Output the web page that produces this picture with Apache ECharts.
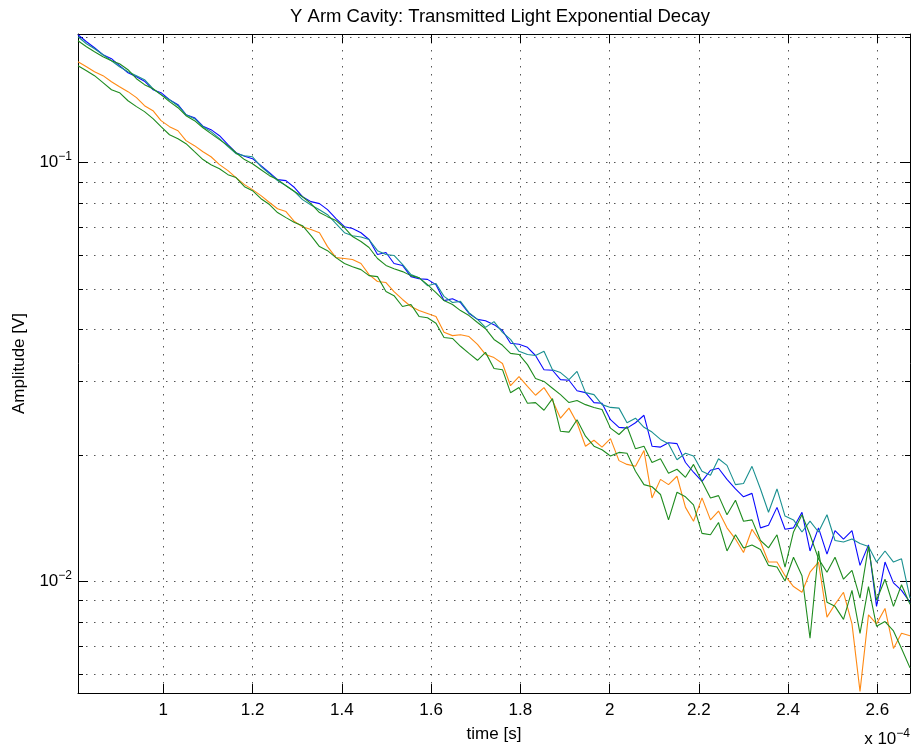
<!DOCTYPE html>
<html>
<head>
<meta charset="utf-8">
<script src="https://cdn.jsdelivr.net/npm/echarts@6/dist/echarts.min.js"></script>
<style>
  html, body { margin: 0; padding: 0; background: #fff; }
  #chart { width: 913px; height: 751px; }
</style>
</head>
<body>
<div id="chart"></div>
<script>
// time axis, in units of 1e-4 s
const timeE4 = [
  0.809, 0.828, 0.846, 0.865, 0.884, 0.902, 0.921, 0.940, 0.958, 0.977,
  0.995, 1.014, 1.033, 1.051, 1.070, 1.089, 1.107, 1.126, 1.145, 1.163,
  1.182, 1.200, 1.219, 1.238, 1.256, 1.275, 1.294, 1.312, 1.331, 1.350,
  1.368, 1.387, 1.406, 1.424, 1.443, 1.461, 1.480, 1.499, 1.517, 1.536,
  1.555, 1.573, 1.592, 1.611, 1.629, 1.648, 1.666, 1.685, 1.704, 1.722,
  1.741, 1.760, 1.778, 1.797, 1.816, 1.834, 1.853, 1.872, 1.890, 1.909,
  1.927, 1.946, 1.965, 1.983, 2.002, 2.021, 2.039, 2.058, 2.077, 2.095,
  2.114, 2.132, 2.151, 2.170, 2.188, 2.207, 2.226, 2.244, 2.263, 2.282,
  2.300, 2.319, 2.338, 2.356, 2.375, 2.393, 2.412, 2.431, 2.449, 2.468,
  2.487, 2.505, 2.524, 2.543, 2.561, 2.580, 2.598, 2.617, 2.636, 2.654,
  2.673
];

// amplitudes [V]
const blueTrace = [
  0.2022, 0.1945, 0.1882, 0.1811, 0.1772, 0.1705, 0.1640, 0.1605, 0.1566, 0.1494,
  0.1470, 0.1414, 0.1376, 0.1302, 0.1281, 0.1222, 0.1199, 0.1160, 0.1104, 0.1056,
  0.1036, 0.1022, 0.0984, 0.0946, 0.0911, 0.0906, 0.0872, 0.0829, 0.0807, 0.0798,
  0.0772, 0.0735, 0.0703, 0.0696, 0.0680, 0.0655, 0.0603, 0.0610, 0.0574, 0.0568,
  0.0534, 0.0528, 0.0526, 0.0511, 0.0468, 0.0473, 0.0463, 0.0436, 0.0422, 0.0419,
  0.0410, 0.0397, 0.0370, 0.0368, 0.0362, 0.0346, 0.0320, 0.0319, 0.0303, 0.0302,
  0.0285, 0.0282, 0.0267, 0.0266, 0.0243, 0.0233, 0.0232, 0.0239, 0.0249, 0.0210,
  0.0209, 0.0214, 0.0213, 0.0192, 0.0182, 0.0173, 0.0184, 0.0186, 0.0175, 0.0166,
  0.0159, 0.0162, 0.0134, 0.0136, 0.0150, 0.0133, 0.0134, 0.0146, 0.0118, 0.0134,
  0.0116, 0.0132, 0.0126, 0.0132, 0.0109, 0.0122, 0.0087, 0.0111, 0.0099, 0.0095,
  0.0089
];
const tealTrace = [
  0.2000, 0.1924, 0.1872, 0.1811, 0.1752, 0.1695, 0.1650, 0.1614, 0.1579, 0.1502,
  0.1454, 0.1414, 0.1368, 0.1302, 0.1274, 0.1219, 0.1186, 0.1141, 0.1092, 0.1051,
  0.1039, 0.1033, 0.0978, 0.0941, 0.0906, 0.0881, 0.0853, 0.0816, 0.0792, 0.0772,
  0.0751, 0.0715, 0.0680, 0.0669, 0.0664, 0.0655, 0.0616, 0.0603, 0.0600, 0.0571,
  0.0540, 0.0531, 0.0508, 0.0514, 0.0479, 0.0463, 0.0466, 0.0438, 0.0422, 0.0404,
  0.0417, 0.0393, 0.0378, 0.0354, 0.0348, 0.0346, 0.0354, 0.0320, 0.0315, 0.0303,
  0.0317, 0.0282, 0.0279, 0.0264, 0.0260, 0.0259, 0.0239, 0.0245, 0.0233, 0.0227,
  0.0218, 0.0213, 0.0195, 0.0202, 0.0199, 0.0183, 0.0179, 0.0196, 0.0189, 0.0170,
  0.0171, 0.0188, 0.0166, 0.0146, 0.0166, 0.0143, 0.0140, 0.0131, 0.0139, 0.0131,
  0.0144, 0.0125, 0.0124, 0.0126, 0.0123, 0.0121, 0.0111, 0.0118, 0.0111, 0.0113,
  0.0091
];
const greenUpperTrace = [
  0.1956, 0.1893, 0.1841, 0.1791, 0.1752, 0.1724, 0.1668, 0.1587, 0.1536, 0.1502,
  0.1454, 0.1399, 0.1353, 0.1295, 0.1260, 0.1212, 0.1173, 0.1135, 0.1098, 0.1056,
  0.1017, 0.0994, 0.0962, 0.0931, 0.0911, 0.0881, 0.0853, 0.0829, 0.0798, 0.0760,
  0.0743, 0.0727, 0.0699, 0.0666, 0.0648, 0.0627, 0.0590, 0.0568, 0.0558, 0.0549,
  0.0537, 0.0531, 0.0511, 0.0489, 0.0468, 0.0458, 0.0443, 0.0431, 0.0415, 0.0401,
  0.0378, 0.0366, 0.0350, 0.0348, 0.0329, 0.0305, 0.0300, 0.0289, 0.0279, 0.0267,
  0.0270, 0.0264, 0.0260, 0.0257, 0.0232, 0.0224, 0.0234, 0.0207, 0.0210, 0.0192,
  0.0196, 0.0181, 0.0185, 0.0177, 0.0190, 0.0173, 0.0158, 0.0160, 0.0144, 0.0156,
  0.0139, 0.0140, 0.0125, 0.0120, 0.0129, 0.0108, 0.0131, 0.0144, 0.0129, 0.0113,
  0.0105, 0.0114, 0.0101, 0.0106, 0.0091, 0.0121, 0.0090, 0.0101, 0.0087, 0.0098,
  0.0088
];
const orangeTrace = [
  0.1743, 0.1695, 0.1650, 0.1614, 0.1561, 0.1519, 0.1478, 0.1430, 0.1368, 0.1331,
  0.1260, 0.1219, 0.1192, 0.1129, 0.1098, 0.1062, 0.1033, 0.0989, 0.0957, 0.0921,
  0.0886, 0.0862, 0.0834, 0.0803, 0.0776, 0.0764, 0.0723, 0.0703, 0.0692, 0.0680,
  0.0630, 0.0593, 0.0590, 0.0587, 0.0574, 0.0540, 0.0520, 0.0517, 0.0492, 0.0471,
  0.0453, 0.0443, 0.0436, 0.0429, 0.0393, 0.0386, 0.0388, 0.0384, 0.0368, 0.0348,
  0.0342, 0.0331, 0.0293, 0.0308, 0.0292, 0.0278, 0.0290, 0.0270, 0.0245, 0.0259,
  0.0239, 0.0210, 0.0217, 0.0209, 0.0219, 0.0194, 0.0190, 0.0188, 0.0205, 0.0158,
  0.0175, 0.0170, 0.0178, 0.0150, 0.0139, 0.0158, 0.0140, 0.0147, 0.0134, 0.0126,
  0.0117, 0.0133, 0.0124, 0.0111, 0.0111, 0.0103, 0.0097, 0.0094, 0.0105, 0.0111,
  0.0082, 0.0088, 0.0094, 0.0079, 0.00545, 0.0083, 0.0079, 0.0086, 0.0069, 0.0075,
  0.0074
];
const greenLowerTrace = [
  0.1705, 0.1659, 0.1614, 0.1553, 0.1494, 0.1470, 0.1406, 0.1361, 0.1324, 0.1274,
  0.1219, 0.1166, 0.1141, 0.1110, 0.1062, 0.1017, 0.0989, 0.0967, 0.0936, 0.0921,
  0.0876, 0.0857, 0.0820, 0.0794, 0.0760, 0.0739, 0.0719, 0.0707, 0.0669, 0.0630,
  0.0616, 0.0593, 0.0574, 0.0564, 0.0555, 0.0537, 0.0534, 0.0492, 0.0481, 0.0453,
  0.0458, 0.0429, 0.0426, 0.0413, 0.0382, 0.0380, 0.0364, 0.0350, 0.0337, 0.0352,
  0.0322, 0.0320, 0.0282, 0.0290, 0.0266, 0.0267, 0.0256, 0.0273, 0.0228, 0.0227,
  0.0243, 0.0222, 0.0210, 0.0206, 0.0199, 0.0203, 0.0202, 0.0183, 0.0170, 0.0168,
  0.0161, 0.0140, 0.0163, 0.0159, 0.0152, 0.0130, 0.0129, 0.0138, 0.0118, 0.0129,
  0.0120, 0.0122, 0.0119, 0.0109, 0.0108, 0.0100, 0.0114, 0.0103, 0.0073, 0.0118,
  0.0089, 0.0087, 0.0081, 0.0095, 0.0075, 0.0097, 0.0078, 0.0080, 0.0076, 0.0069,
  0.0062
];

// axis limits and the log-axis minor grid values
const tMin = 0.809, tMax = 2.673;
const ampMin = 0.0054, ampMax = 0.203;
const minorAmpTicks = [0.006, 0.007, 0.008, 0.009, 0.02, 0.03, 0.04, 0.05, 0.06, 0.07, 0.08, 0.09, 0.2];

const FONT = '"Liberation Sans", Arial, Helvetica, sans-serif';
const GRID_DOTS = { color: '#555', width: 1, type: [1.5, 6.5] };

const pairs = (ys) => ys.map((y, i) => [timeE4[i], y]);

function isDecade(v) {
  const l = Math.log10(v);
  return Math.abs(l - Math.round(l)) < 1e-6;
}

function xLabel(v) {
  return Math.abs(v * 5 - Math.round(v * 5)) < 1e-6 ? String(+v.toFixed(1)) : '';
}

function yLabel(v) {
  if (!isDecade(v)) return '';
  return '{b|10}{s|\u2212' + (-Math.round(Math.log10(v))) + '}';
}

const supRich = {
  b: { fontSize: 17, lineHeight: 17, fontFamily: FONT, color: '#000', verticalAlign: 'bottom' },
  s: { fontSize: 12, lineHeight: 12, fontFamily: FONT, color: '#000', verticalAlign: 'bottom', padding: [0, 0, 8, 0] }
};

function line(name, ys, color) {
  return {
    name: name, type: 'line', data: pairs(ys), showSymbol: false, symbol: 'none',
    lineStyle: { color: color, width: 1.1 }, z: 3, silent: true
  };
}

const chart = echarts.init(document.getElementById('chart'));

chart.setOption({
  animation: false,
  backgroundColor: '#fff',
  title: {
    text: 'Y Arm Cavity: Transmitted Light Exponential Decay',
    left: 495, top: 2, textAlign: 'center',
    textStyle: { fontSize: 18.5, fontWeight: 'normal', color: '#000', fontFamily: FONT }
  },
  grid: { left: 78, right: 2, top: 34, bottom: 58, containLabel: false },
  xAxis: [{
    type: 'value', position: 'bottom', min: tMin, max: tMax, splitNumber: 9,
    axisLine: { onZero: false, lineStyle: { color: '#000', width: 1 } },
    axisTick: { inside: true, length: 9, lineStyle: { color: '#000' } },
    axisLabel: { color: '#000', fontSize: 17, fontFamily: FONT, margin: 9, formatter: xLabel },
    splitLine: { show: true, lineStyle: GRID_DOTS },
    name: 'time [s]', nameLocation: 'middle', nameGap: 33,
    nameTextStyle: { color: '#000', fontSize: 17, fontFamily: FONT }
  }, {
    type: 'value', position: 'top', min: tMin, max: tMax, splitNumber: 9,
    axisLine: { onZero: false, lineStyle: { color: '#000', width: 1 } },
    axisTick: { inside: true, length: 9, lineStyle: { color: '#000' } },
    axisLabel: { show: false },
    splitLine: { show: false }
  }],
  yAxis: [{
    type: 'log', logBase: 10, position: 'left', min: ampMin, max: ampMax,
    axisLine: { onZero: false, lineStyle: { color: '#000', width: 1 } },
    axisTick: { inside: true, length: 10, lineStyle: { color: '#000' } },
    axisLabel: { margin: 6, formatter: yLabel, rich: supRich },
    splitLine: { show: true, lineStyle: GRID_DOTS },
    name: 'Amplitude [V]', nameLocation: 'middle', nameGap: 50, nameRotate: 90,
    nameTextStyle: { color: '#000', fontSize: 17, fontFamily: FONT }
  }, {
    type: 'log', logBase: 10, position: 'right', min: ampMin, max: ampMax,
    axisLine: { onZero: false, lineStyle: { color: '#000', width: 1 } },
    axisTick: { inside: true, length: 10, lineStyle: { color: '#000' } },
    axisLabel: { show: false },
    splitLine: { show: false }
  }],
  graphic: [{
    type: 'text', right: 3, bottom: 3,
    style: { text: 'x {b|10}{s|\u22124}', fill: '#000', font: '17px ' + FONT, rich: supRich }
  }],
  series: [
    {
      // minor decade lines and their short edge ticks
      type: 'custom', xAxisIndex: 0, yAxisIndex: 0, z: 1, silent: true,
      data: minorAmpTicks.map(v => [tMin, v]),
      renderItem: function (params, api) {
        const cs = params.coordSys;
        const y = Math.round(api.coord([api.value(0), api.value(1)])[1]) + 0.5;
        const x0 = cs.x, x1 = cs.x + cs.width;
        return {
          type: 'group',
          children: [
            { type: 'line', shape: { x1: x0, y1: y, x2: x1, y2: y },
              style: { stroke: GRID_DOTS.color, lineWidth: 1, lineDash: GRID_DOTS.type } },
            { type: 'line', shape: { x1: x0, y1: y, x2: x0 + 5, y2: y }, style: { stroke: '#000', lineWidth: 1 } },
            { type: 'line', shape: { x1: x1 - 5, y1: y, x2: x1, y2: y }, style: { stroke: '#000', lineWidth: 1 } }
          ]
        };
      }
    },
    line('blue', blueTrace, '#0a0aff'),
    line('teal', tealTrace, '#1a9090'),
    line('green upper', greenUpperTrace, '#1f8c1f'),
    line('orange', orangeTrace, '#ff8a14'),
    line('green lower', greenLowerTrace, '#1f8c1f')
  ]
});
</script>
</body>
</html>
